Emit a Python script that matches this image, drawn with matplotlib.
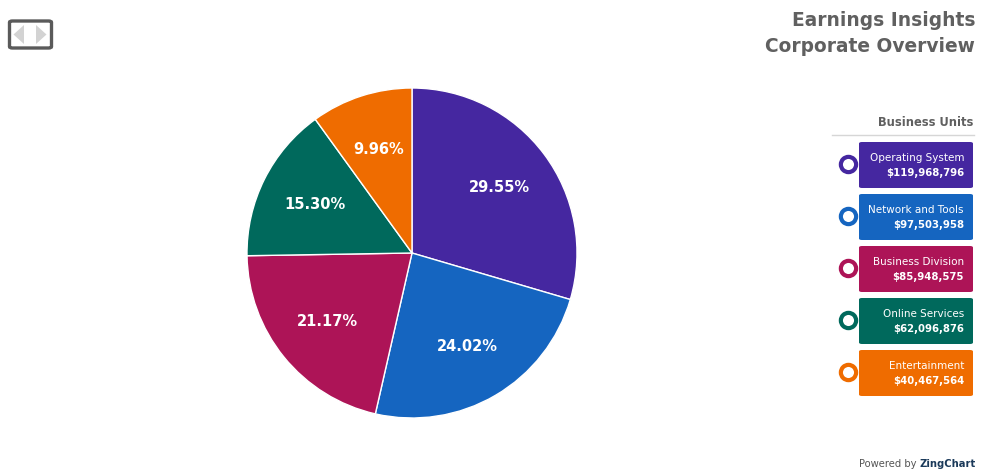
import matplotlib
matplotlib.use("Agg")
import matplotlib.pyplot as plt
from matplotlib.patches import FancyBboxPatch, Polygon
from matplotlib.lines import Line2D

categories = ["Operating System", "Network and Tools", "Business Division", "Online Services", "Entertainment"]
values = [119968796, 97503958, 85948575, 62096876, 40467564]
pct_labels = ["29.55%", "24.02%", "21.17%", "15.30%", "9.96%"]
colors = ["#4527A0", "#1565C0", "#AD1457", "#00695C", "#EF6C00"]
title_lines = ["Earnings Insights", "Corporate Overview"]
legend_title = "Business Units"

FONT = "DejaVu Sans"
W, H = 983, 476
fig = plt.figure(figsize=(W / 100, H / 100), dpi=100)
fig.patch.set_facecolor("white")

def fx(x):
    return x / W

def fy(y):
    return 1 - y / H

# Pie
cx, cy, r = 412, 253, 165
ax = fig.add_axes([fx(cx - r), fy(cy + r), 2 * r / W, 2 * r / H])
wedges, texts = ax.pie(
    values, colors=colors, startangle=90, counterclock=False,
    labels=pct_labels, labeldistance=0.66,
    wedgeprops=dict(edgecolor="white", linewidth=1),
    textprops=dict(color="white", fontsize=10.5, fontweight="bold", family=FONT),
)
for t in texts:
    t.set_ha("center")
    t.set_va("center")
ax.set_xlim(-1, 1)
ax.set_ylim(-1, 1)
ax.set_aspect("auto")
ax.axis("off")

# Title
fig.text(fx(975), fy(21), title_lines[0], ha="right", va="center", fontsize=13.4,
         fontweight="bold", color="#606060", family=FONT)
fig.text(fx(975), fy(47), title_lines[1], ha="right", va="center", fontsize=13.4,
         fontweight="bold", color="#606060", family=FONT)

# Legend
fig.text(fx(973), fy(123), legend_title, ha="right", va="center", fontsize=8.3,
         fontweight="bold", color="#606060", family=FONT)
fig.add_artist(Line2D([fx(832), fx(974)], [fy(135), fy(135)], color="#D6D6D6", lw=1,
                      transform=fig.transFigure))
box_l, box_r, box_h, gap = 859, 973, 46, 52
for i, (cat, val, col) in enumerate(zip(categories, values, colors)):
    top = 142 + i * gap
    fig.add_artist(FancyBboxPatch((fx(box_l), fy(top + box_h)), (box_r - box_l) / W, box_h / H,
                                  boxstyle="round,pad=0,rounding_size=0.003",
                                  facecolor=col, edgecolor="none", transform=fig.transFigure))
    fig.text(fx(964), fy(top + 16), cat, ha="right", va="center", fontsize=7.5,
             color="white", family=FONT)
    fig.text(fx(964), fy(top + 31), "${:,}".format(val), ha="right", va="center", fontsize=7.3,
             color="white", fontweight="bold", family=FONT)
    ccy = top + 22
    fig.add_artist(Line2D([fx(848)], [fy(ccy)], marker="o", markersize=11,
                          markerfacecolor="white", markeredgecolor=col, markeredgewidth=3,
                          transform=fig.transFigure))

# Powered by
fig.text(fx(920), fy(464), "Powered by ", ha="right", va="center", fontsize=7.2,
         color="#555555", family=FONT)
fig.text(fx(920), fy(464), "ZingChart", ha="left", va="center", fontsize=7.2,
         color="#1B3A5A", fontweight="bold", family=FONT)

# Top-left toggle icon
fig.add_artist(FancyBboxPatch((fx(9.5), fy(48)), 42 / W, 27 / H,
                              boxstyle="round,pad=0,rounding_size=0.003",
                              facecolor="white", edgecolor="#5A5A5A", linewidth=2.4,
                              transform=fig.transFigure))
fig.add_artist(Polygon([(fx(24), fy(25)), (fx(24), fy(44)), (fx(13.5), fy(34.5))],
                       closed=True, facecolor="#D3D3D3", edgecolor="none", transform=fig.transFigure))
fig.add_artist(Polygon([(fx(36), fy(25)), (fx(36), fy(44)), (fx(46.5), fy(34.5))],
                       closed=True, facecolor="#D3D3D3", edgecolor="none", transform=fig.transFigure))

fig.savefig("out.png", dpi=100)
